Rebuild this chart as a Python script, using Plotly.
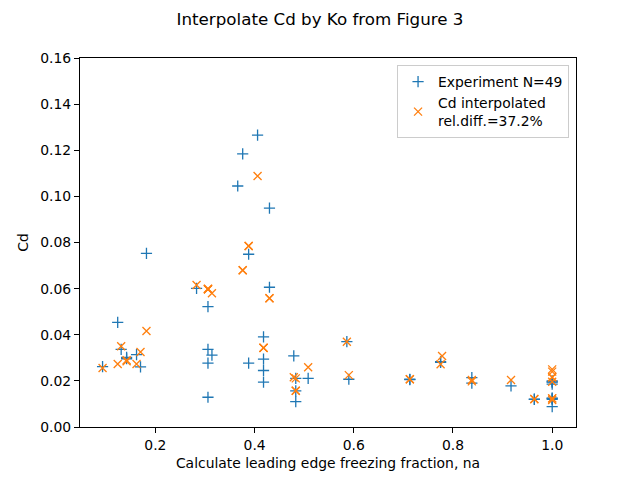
import plotly.graph_objects as go

na = [0.0935, 0.124, 0.131, 0.142, 0.142, 0.162, 0.170, 0.182, 0.283,
      0.306, 0.306, 0.306, 0.306, 0.314, 0.366, 0.376, 0.388, 0.388, 0.406,
      0.418, 0.418, 0.418, 0.418, 0.430, 0.430, 0.479, 0.483, 0.483, 0.483,
      0.508, 0.586, 0.590, 0.713, 0.713, 0.775, 0.775, 0.838, 0.838, 0.917,
      0.964, 0.964, 1.0, 1.0, 1.0, 1.0, 1.0, 1.0, 1.0, 1.0]
na_interp = [0.0935, 0.124, 0.131, 0.142, 0.142, 0.162, 0.170, 0.182, 0.283,
             0.306, 0.306, 0.306, 0.306, 0.314, 0.376, 0.376, 0.388, 0.388, 0.406,
             0.418, 0.418, 0.418, 0.418, 0.430, 0.430, 0.479, 0.483, 0.483, 0.483,
             0.508, 0.586, 0.590, 0.713, 0.713, 0.778, 0.775, 0.838, 0.838, 0.917,
             0.964, 0.964, 1.0, 1.0, 1.0, 1.0, 1.0, 1.0, 1.0, 1.0]
cd_exp = [0.0262, 0.0454, 0.0337, 0.0302, 0.0296, 0.0314, 0.0261, 0.0753, 0.0601,
          0.0522, 0.0337, 0.0277, 0.0129, 0.0312, 0.1045, 0.1184, 0.0749, 0.0277, 0.1266,
          0.0391, 0.0294, 0.0245, 0.0195, 0.0949, 0.0606, 0.0308, 0.0211, 0.0157, 0.0110,
          0.0211, 0.0370, 0.0207, 0.0207, 0.0205, 0.0283, 0.0280, 0.0214, 0.0190, 0.0178,
          0.0120, 0.0121, 0.0196, 0.0186, 0.0124, 0.0088, 0.0200, 0.0120, 0.0125, 0.0195]
cd_interp = [0.0256, 0.0273, 0.0350, 0.0290, 0.0285, 0.0273, 0.0325, 0.0416, 0.0616,
             0.0597, 0.0597, 0.0600, 0.0597, 0.0580, 0.0680, 0.0680, 0.0785, 0.0785, 0.1088,
             0.0343, 0.0343, 0.0343, 0.0343, 0.0558, 0.0558, 0.0216, 0.0211, 0.0157, 0.0157,
             0.0259, 0.0370, 0.0225, 0.0207, 0.0207, 0.0308, 0.0272, 0.0204, 0.0198, 0.0204,
             0.0120, 0.0122, 0.0250, 0.0240, 0.0216, 0.0124, 0.0196, 0.0117, 0.0124, 0.0216]

y_ticks = [0.00, 0.02, 0.04, 0.06, 0.08, 0.10, 0.12, 0.14, 0.16]
x_ticks = [0.2, 0.4, 0.6, 0.8, 1.0]

FONT = "DejaVu Sans"

fig = go.Figure()
fig.add_trace(go.Scatter(
    x=na, y=cd_exp, mode="markers", name="Experiment N=49",
    marker=dict(symbol="cross-thin-open", size=8, color="#1f77b4",
                line=dict(color="#1f77b4", width=1.3))))
fig.add_trace(go.Scatter(
    x=na_interp, y=cd_interp, mode="markers", name="Cd interpolated<br>rel.diff.=37.2%",
    marker=dict(symbol="x-thin-open", size=8, color="#ff7f0e",
                line=dict(color="#ff7f0e", width=1.3))))

axis_common = dict(showline=True, mirror=True, linecolor="black", linewidth=1,
                   ticks="outside", ticklen=5, tickwidth=1, tickcolor="black",
                   showgrid=False, zeroline=False,
                   tickfont=dict(family=FONT, size=13.9, color="black"))

fig.update_layout(
    width=640, height=480,
    margin=dict(l=80, r=64, t=58, b=53),
    paper_bgcolor="white", plot_bgcolor="white",
    font=dict(family=FONT, size=13.9, color="black"),
    title=dict(text="Interpolate Cd by Ko from Figure 3", x=0.5, xanchor="center",
               y=1 - 19 / 480, yanchor="middle",
               font=dict(family=FONT, size=16.7, color="black")),
    xaxis=dict(range=[0.048, 1.048], tickvals=x_ticks, tickformat=".1f",
               title=dict(text="Calculate leading edge freezing fraction, na",
                          font=dict(family=FONT, size=13.9), standoff=6),
               **axis_common),
    yaxis=dict(range=[0, 0.16], tickvals=y_ticks, tickformat=".2f",
               title=dict(text="Cd", font=dict(family=FONT, size=13.9), standoff=8),
               **axis_common),
    legend=dict(x=0.986, y=0.981, xanchor="right", yanchor="top",
                bordercolor="#cccccc", borderwidth=1, bgcolor="rgba(255,255,255,0.8)",
                font=dict(family=FONT, size=13.9, color="black"),
                tracegroupgap=2),
    showlegend=True,
)

fig.write_html("out.html")
